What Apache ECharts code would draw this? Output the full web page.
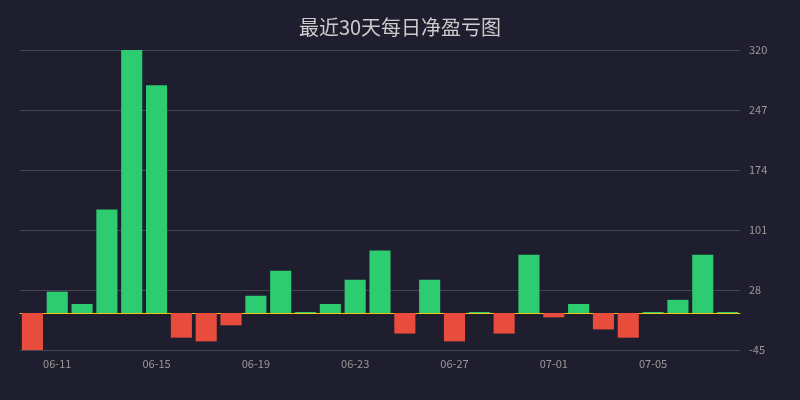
<!DOCTYPE html>
<html>
<head>
<meta charset="utf-8">
<script src="https://cdn.jsdelivr.net/npm/echarts@6/dist/echarts.min.js"></script>
<style>
html,body{margin:0;padding:0;background:#1e1e2e;}
#c{width:800px;height:400px;}
</style>
</head>
<body>
<div id="c"></div>
<script>
const dates = ['06-10','06-11','06-12','06-13','06-14','06-15','06-16','06-17','06-18','06-19',
  '06-20','06-21','06-22','06-23','06-24','06-25','06-26','06-27','06-28','06-29',
  '06-30','07-01','07-02','07-03','07-04','07-05','07-06','07-07','07-08'];
const pnl = [-46, 26, 11, 126, 320, 277, -30, -34.5, -15, 21,
  51.5, 0, 11, 40.5, 76, -25, 40.5, -34.5, 0, -25,
  71, -5.3, 11, -20, -30, 0, 16, 71, 0];
const yTicks = {min: -45, max: 320, interval: 73};

const FONT = '"Noto Sans CJK SC", "Noto Sans", sans-serif';
const chart = echarts.init(document.getElementById('c'));
chart.setOption({
  backgroundColor: '#1e1e2e',
  animation: false,
  textStyle: {fontFamily: FONT},
  title: {
    text: '最近30天每日净盈亏图',
    left: 'center',
    top: 12,
    textStyle: {color: '#cccccc', fontSize: 20, fontWeight: 'normal', fontFamily: FONT}
  },
  grid: {left: 20, right: 60, top: 50, bottom: 50},
  xAxis: {
    type: 'category',
    data: dates,
    axisLine: {show: true, onZero: true, lineStyle: {color: '#f1c40f', width: 1}},
    axisTick: {show: false},
    axisLabel: {
      color: '#999999',
      fontSize: 11,
      fontFamily: FONT,
      interval: function (i) { return i % 4 === 1; }
    },
    splitLine: {show: false}
  },
  yAxis: {
    type: 'value',
    position: 'right',
    min: yTicks.min,
    max: yTicks.max,
    interval: yTicks.interval,
    axisLine: {show: false},
    axisTick: {show: false},
    axisLabel: {color: '#999999', fontSize: 11, margin: 9, fontFamily: FONT},
    splitLine: {lineStyle: {color: '#45455a', width: 1}}
  },
  series: [{
    type: 'bar',
    data: pnl.map(v => ({value: v, itemStyle: {color: v >= 0 ? '#2ecc71' : '#e74c3c'}})),
    barCategoryGap: '15%',
    barMinHeight: 1
  }]
});
</script>
</body>
</html>
